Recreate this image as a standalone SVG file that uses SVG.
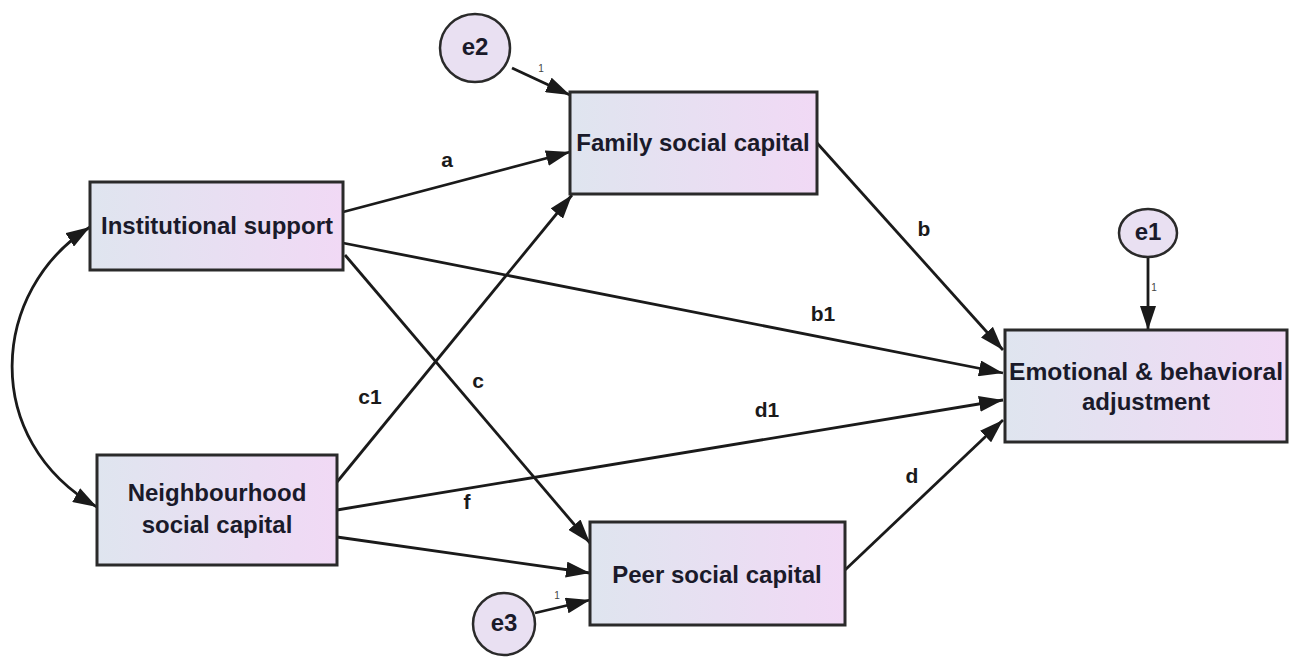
<svg xmlns="http://www.w3.org/2000/svg" width="1293" height="658" viewBox="0 0 1293 658">
  <style>
    .box { stroke: #2a2a2a; stroke-width: 3; }
    .err { fill: #e9e0f2; stroke: #2a2a2a; stroke-width: 2.5; }
    .lbl { font-family: "Liberation Sans", Arial, sans-serif; font-weight: bold; font-size: 24px; fill: #1a1a2a; text-anchor: middle; }
    .pl { font-family: "Liberation Sans", Arial, sans-serif; font-weight: bold; font-size: 21px; fill: #1a1a1a; text-anchor: middle; }
    .one { font-family: "Liberation Sans", Arial, sans-serif; font-size: 10px; fill: #444; text-anchor: middle; }
  </style>
  <defs>
    <linearGradient id="fillg" x1="0" y1="0" x2="1" y2="0">
      <stop offset="0" stop-color="#dfe5ef"/>
      <stop offset="1" stop-color="#f1d9f5"/>
    </linearGradient>
    <marker id="arrL" viewBox="0 0 24 16" refX="24" refY="8" markerWidth="24" markerHeight="16" markerUnits="userSpaceOnUse" orient="auto-start-reverse">
      <path d="M0,0 L24,8 L0,16 z" fill="#1a1a1a"/>
    </marker>
  </defs>

  <rect width="1293" height="658" fill="#ffffff"/>

  <!-- paths between variables -->
  <g id="connectors" stroke="#1a1a1a" stroke-width="2.8" fill="none">
    <path d="M512,68 L570,95" marker-end="url(#arrL)"/>
    <path d="M343,212 L570,152" marker-end="url(#arrL)"/>
    <path d="M343,243 L1003,373" marker-end="url(#arrL)"/>
    <path d="M345,255 L590,543" marker-end="url(#arrL)"/>
    <path d="M337,482 L572,195" marker-end="url(#arrL)"/>
    <path d="M337,510 L1003,400" marker-end="url(#arrL)"/>
    <path d="M337,537 L590,573" marker-end="url(#arrL)"/>
    <path d="M535,613 L590,600" marker-end="url(#arrL)"/>
    <path d="M817,143 L1003,350" marker-end="url(#arrL)"/>
    <path d="M845,570 L1003,420" marker-end="url(#arrL)"/>
    <path d="M1148,257 L1148,330" marker-end="url(#arrL)"/>
    <path d="M90,227 C-10,290 -20,440 97,507" marker-start="url(#arrL)" marker-end="url(#arrL)"/>
  </g>

  <!-- path labels -->
  <g id="path-labels">
    <text class="pl" x="447" y="167">a</text>
    <text class="pl" x="924" y="236">b</text>
    <text class="pl" x="823" y="321">b1</text>
    <text class="pl" x="478" y="388">c</text>
    <text class="pl" x="370" y="404">c1</text>
    <text class="pl" x="767" y="417">d1</text>
    <text class="pl" x="912" y="483">d</text>
    <text class="pl" x="467" y="509">f</text>
    <text class="one" x="541" y="72">1</text>
    <text class="one" x="1154" y="291">1</text>
    <text class="one" x="557" y="599">1</text>
  </g>

  <g id="node-family">
    <rect class="box" x="570" y="92" width="247" height="102" fill="url(#fillg)"/>
    <text class="lbl" x="693" y="151">Family social capital</text>
  </g>
  <g id="node-institutional">
    <rect class="box" x="90" y="182" width="253" height="88" fill="url(#fillg)"/>
    <text class="lbl" x="217" y="234">Institutional support</text>
  </g>
  <g id="node-neighbourhood">
    <rect class="box" x="97" y="455" width="240" height="110" fill="url(#fillg)"/>
    <text class="lbl" x="217" y="501">Neighbourhood</text>
    <text class="lbl" x="217" y="533">social capital</text>
  </g>
  <g id="node-peer">
    <rect class="box" x="590" y="522" width="255" height="103" fill="url(#fillg)"/>
    <text class="lbl" x="717" y="583">Peer social capital</text>
  </g>
  <g id="node-emotional">
    <rect class="box" x="1005" y="330" width="282" height="112" fill="url(#fillg)"/>
    <text class="lbl" x="1146" y="380" textLength="274" lengthAdjust="spacingAndGlyphs">Emotional &amp; behavioral</text>
    <text class="lbl" x="1146" y="410">adjustment</text>
  </g>
  <g id="node-e1">
    <ellipse class="err" cx="1148" cy="233" rx="29" ry="24"/>
    <text class="lbl" x="1148" y="240" font-size="20">e1</text>
  </g>
  <g id="node-e2">
    <ellipse class="err" cx="475" cy="48" rx="35" ry="34"/>
    <text class="lbl" x="475" y="55" font-size="20">e2</text>
  </g>
  <g id="node-e3">
    <ellipse class="err" cx="504" cy="624" rx="31" ry="31"/>
    <text class="lbl" x="504" y="631" font-size="20">e3</text>
  </g>
</svg>
